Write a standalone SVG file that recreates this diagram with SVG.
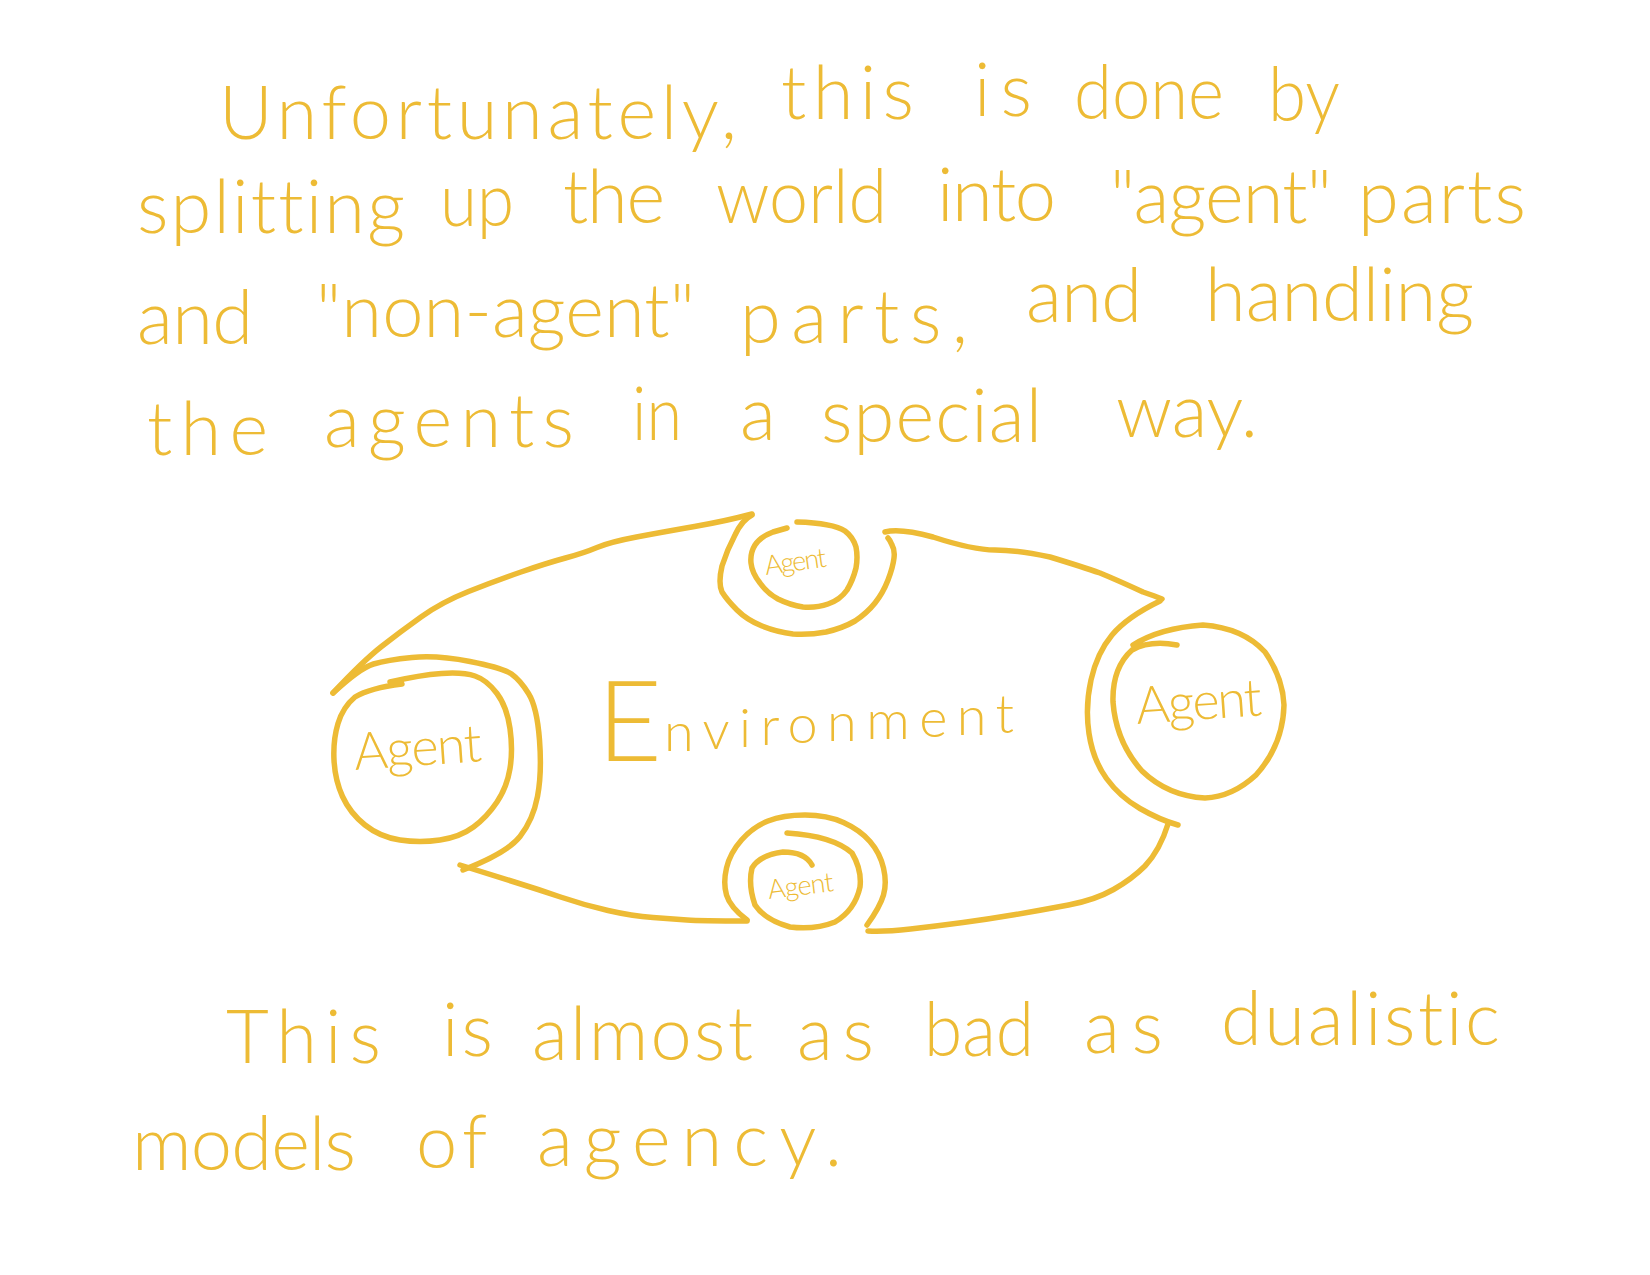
<svg xmlns="http://www.w3.org/2000/svg" width="1650" height="1275" viewBox="0 0 1650 1275">
<style>
  .ink { fill: none; stroke: #EDBB35; stroke-width: 5.5; stroke-linecap: round; stroke-linejoin: round; }
  .body { font-family: Lato, "Open Sans", "Liberation Sans", sans-serif; font-weight: 300; font-size: 74px; fill: #EDBB35; font-variant-ligatures: none; }
  .lbl { font-family: Lato, "Open Sans", "Liberation Sans", sans-serif; font-weight: 300; fill: #EDBB35; font-variant-ligatures: none; }
  .sq { }
</style>
<rect width="1650" height="1275" fill="#FFFFFF"/>

<g id="text-top">
  <text class="body" lengthAdjust="spacing">
    <tspan x="219" y="139" textLength="518">Unfortunately,</tspan>
    <tspan x="781" y="119" textLength="133">this</tspan>
    <tspan x="974" y="116" textLength="58">is</tspan>
    <tspan x="1074" y="119" textLength="150" lengthAdjust="spacingAndGlyphs">done</tspan>
    <tspan x="1268" y="121" textLength="72" lengthAdjust="spacingAndGlyphs">by</tspan>
  </text>
  <text class="body" lengthAdjust="spacing">
    <tspan x="137" y="233" textLength="268">splitting</tspan>
    <tspan x="440" y="226" textLength="74" lengthAdjust="spacingAndGlyphs">up</tspan>
    <tspan x="563" y="223" textLength="102">the</tspan>
    <tspan x="716" y="223" textLength="171" lengthAdjust="spacingAndGlyphs">world</tspan>
    <tspan x="937" y="221" textLength="119">into</tspan>
    <tspan x="1110" y="223" textLength="222">"agent"</tspan>
    <tspan x="1358" y="223" textLength="168">parts</tspan>
  </text>
  <text class="body" lengthAdjust="spacing">
    <tspan x="137" y="344" textLength="116">and</tspan>
    <tspan x="316" y="337" textLength="379">"non-agent"</tspan>
    <tspan x="740" y="343" textLength="228">parts,</tspan>
    <tspan x="1026" y="322" textLength="116">and</tspan>
    <tspan x="1205" y="321" textLength="269">handling</tspan>
  </text>
  <text class="body" lengthAdjust="spacing">
    <tspan x="147" y="455" textLength="121">the</tspan>
    <tspan x="324" y="447" textLength="250">agents</tspan>
    <tspan x="632" y="440" textLength="50" lengthAdjust="spacingAndGlyphs">in</tspan>
    <tspan x="740" y="440" textLength="37">a</tspan>
    <tspan x="821" y="442" textLength="221">special</tspan>
    <tspan x="1116" y="437" textLength="142" lengthAdjust="spacingAndGlyphs">way.</tspan>
  </text>
</g>

<g id="text-bottom">
  <text class="body" lengthAdjust="spacing">
    <tspan x="226" y="1063" textLength="155">This</tspan>
    <tspan x="442" y="1056" textLength="51">is</tspan>
    <tspan x="532" y="1060" textLength="221">almost</tspan>
    <tspan x="797" y="1060" textLength="77">as</tspan>
    <tspan x="924" y="1056" textLength="110" lengthAdjust="spacingAndGlyphs">bad</tspan>
    <tspan x="1084" y="1053" textLength="79">as</tspan>
    <tspan x="1221" y="1045" textLength="279">dualistic</tspan>
  </text>
  <text class="body" lengthAdjust="spacing">
    <tspan x="132" y="1170" textLength="224">models</tspan>
    <tspan x="416" y="1168" textLength="70">of</tspan>
    <tspan x="537" y="1166" textLength="305">agency.</tspan>
  </text>
</g>

<g id="environment">
  <text class="lbl">
    <tspan x="597" y="761" font-size="112">E</tspan>
    <tspan x="664" y="751" font-size="54" textLength="350" lengthAdjust="spacing" dy="0 -2 -2 -2 -2 -2 -2 -2 -2 -2">nvironment</tspan>
  </text>
</g>

<g id="connectors">
  <path class="ink" d="M333,693 Q363,661 381.5,646.5 Q400,632 421,617 Q442,602 468.5,591.5 Q495,581 521,572 Q547,563 565.5,558 Q584,553 597,547.5 Q610,542 636.5,537 Q663,532 694.5,526.5 Q726,521 752,514"/>
  <path class="ink" d="M885,532 Q900,528 933,537 Q973,550 995,550 Q1017,550 1050,557 Q1083,567 1100,573 Q1117,580 1143,592 Q1155,596 1162,599"/>
  <path class="ink" d="M1168,824 Q1160,850 1145,866 Q1132,879 1113.5,889.5 Q1095,900 1068.5,905 Q1042,910 1015.5,914.5 Q989,919 963,922.5 Q937,926 910.5,929 Q884,932 868,931"/>
  <path class="ink" d="M747,921 Q700,921 687,920 Q674,919 653,917.5 Q632,916 608,910.5 Q584,905 560.5,897 Q537,889 516,882.5 Q495,876 460,865"/>
</g>

<g id="agent-top">
  <path class="ink" d="M752,515 Q742,520 735,535 Q727,550 722,566 Q718,583 722,592 Q727,600 737,610 Q747,620 762,626 Q777,632 793,634 Q810,635 826,632 Q843,628 855,621 Q867,613 875,603 Q883,593 888,580 Q893,567 894,558 Q895,550 892,545 Q890,540 888,538"/>
  <path class="ink" d="M797,522 Q833,523 845,531 Q853,537 856,547 Q858,557 856,568 Q853,580 847,590 Q840,600 828,604 Q817,608 803,607 Q790,605 778,599 Q767,593 760,583 Q752,573 751,563 Q750,553 755,545 Q760,537 773,532 Q780,530 787,528"/>
  <text class="lbl" font-size="27" x="766" y="575" textLength="62" lengthAdjust="spacing" transform="rotate(-8 766 575)">Agent</text>
</g>

<g id="agent-right">
  <path class="ink" d="M1160,601 Q1127,617 1112,635 Q1097,653 1091,680 Q1085,707 1089,733.5 Q1093,760 1106.5,778.5 Q1120,797 1140,808.5 Q1160,820 1178,825"/>
  <path class="ink" d="M1133,645 Q1160,628 1203,625 Q1243,628 1265,652 Q1283,678 1284,705 Q1283,745 1256,775 Q1232,797 1205,798 Q1168,796 1142,771 Q1116,742 1113,702 Q1112,668 1132,650 Q1150,640 1177,645"/>
  <text class="lbl" font-size="52" x="1137" y="724" textLength="126" lengthAdjust="spacing" transform="rotate(-4 1137 724)">Agent</text>
</g>

<g id="agent-bottom">
  <path class="ink" d="M867,925 Q880,907 883.5,895 Q887,883 883.5,868 Q880,853 870,841.5 Q860,830 843.5,822.5 Q827,815 805,815 Q783,815 768,821 Q753,827 741.5,840 Q730,853 726.5,868 Q723,883 726.5,895 Q730,907 747,920"/>
  <path class="ink" d="M787,833 Q833,836 852,853 Q862,870 860,887 Q855,910 835,922 Q815,930 790,927 Q765,920 755,905 Q748,885 752,868 Q760,855 783,852 Q805,852 812,865"/>
  <text class="lbl" font-size="27" x="769" y="899" textLength="66" lengthAdjust="spacing" transform="rotate(-7 769 899)">Agent</text>
</g>

<g id="agent-left">
  <path class="ink" d="M463,870 Q507,853 520,836.5 Q533,820 537.5,796.5 Q542,773 539.5,740 Q537,707 528.5,693.5 Q520,680 511.5,674 Q503,668 470,661.5 Q437,655 412,657.5 Q387,660 373.5,664 Q360,668 333,693"/>
  <path class="ink" d="M390,682 Q420,675 441.5,673.5 Q463,672 475,676 Q487,680 497,693.5 Q507,707 510,728.5 Q513,750 510,768.5 Q507,787 497,802 Q487,817 473.5,827 Q460,837 440,840 Q420,843 400,840 Q380,837 365,825 Q350,813 342.5,796.5 Q335,780 334,760 Q333,740 338,723.5 Q343,707 355,697 Q370,688 402,684"/>
  <text class="lbl" font-size="52" x="355" y="770" textLength="128" lengthAdjust="spacing" transform="rotate(-4 355 770)">Agent</text>
</g>
</svg>
